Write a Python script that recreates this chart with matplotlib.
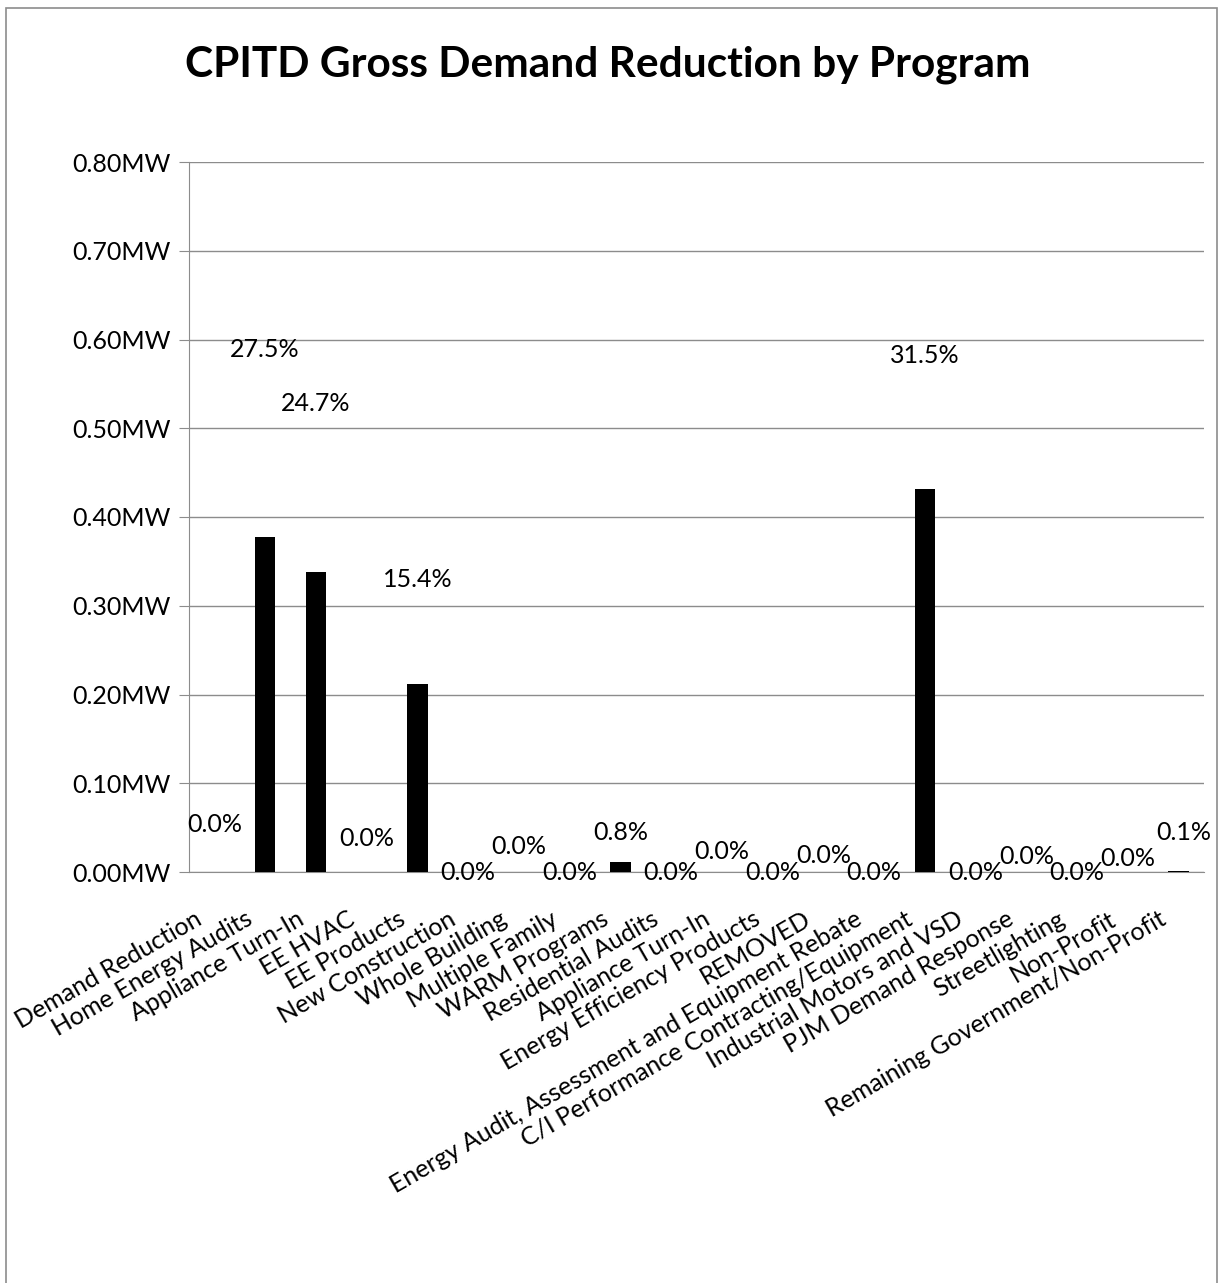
import matplotlib
matplotlib.use("Agg")
import matplotlib.pyplot as plt
import matplotlib.transforms as mtransforms
from matplotlib.patches import Rectangle

plt.rcParams['font.family'] = ['Lato', 'DejaVu Sans']

programs = ["Demand Reduction", "Home Energy Audits", "Appliance Turn-In", "EE HVAC",
            "EE Products", "New Construction", "Whole Building", "Multiple Family",
            "WARM Programs", "Residential Audits", "Appliance Turn-In",
            "Energy Efficiency Products", "REMOVED",
            "Energy Audit, Assessment and Equipment Rebate",
            "C/I Performance Contracting/Equipment", "Industrial Motors and VSD",
            "PJM Demand Response", "Streetlighting", "Non-Profit",
            "Remaining Government/Non-Profit"]
demand_mw = [0.0, 0.377, 0.338, 0.0, 0.212, 0.0, 0.0, 0.0, 0.011, 0.0,
             0.0, 0.0, 0.0, 0.0, 0.432, 0.0, 0.0, 0.0, 0.0, 0.001]
share_pct = [0.0, 27.5, 24.7, 0.0, 15.4, 0.0, 0.0, 0.0, 0.8, 0.0,
             0.0, 0.0, 0.0, 0.0, 31.5, 0.0, 0.0, 0.0, 0.0, 0.1]

# where each percentage label sits (data units), mimicking the spreadsheet layout
label_y = [0.053, 0.589, 0.528, 0.038, 0.330, 0.0, 0.029, 0.0, 0.044, 0.0,
           0.023, 0.0, 0.019, 0.0, 0.582, 0.0, 0.017, 0.0, 0.015, 0.044]
label_dx = [0]*19 + [0.1]

fig = plt.figure(figsize=(12.21, 12.83), dpi=100)
fig.patch.set_facecolor("white")
fig.add_artist(Rectangle((0.005, -0.01), 0.992, 1.004, transform=fig.transFigure,
                         fill=False, edgecolor="#8c8c8c", linewidth=1.2))

ax = fig.add_axes([189/1221, 1 - 872/1283, 1015/1221, 710/1283])
x = list(range(len(programs)))
ax.bar(x, demand_mw, width=0.4, color="black", zorder=3)

for i, p in enumerate(share_pct):
    ax.text(i + label_dx[i], label_y[i], "%.1f%%" % p, ha="center", va="center",
            fontsize=18, zorder=4)

ax.set_xlim(-0.5, len(programs) - 0.5)
ax.set_ylim(0, 0.8)
ax.set_yticks([i/10 for i in range(9)])
ax.set_yticklabels(["%.2fMW" % (i/10) for i in range(9)], fontsize=18)
ax.yaxis.grid(True, color="#8c8c8c", linewidth=1.0, zorder=0)
ax.tick_params(axis="y", length=7, color="#8c8c8c", pad=6)
ax.set_xticks(x)
ax.set_xticklabels(programs, rotation=30, ha="right", rotation_mode="anchor", fontsize=18)
ax.tick_params(axis="x", length=0, pad=8)
# nudge the slanted names left and down
shift = mtransforms.ScaledTranslation(-20/100, -24/100, fig.dpi_scale_trans)
for lbl in ax.get_xticklabels():
    lbl.set_transform(lbl.get_transform() + shift)
for s in ["top", "right"]:
    ax.spines[s].set_visible(False)
ax.spines["left"].set_color("#8c8c8c")
ax.spines["bottom"].set_color("#8c8c8c")

fig.text(0.498, 1 - 65/1283, "CPITD Gross Demand Reduction by Program",
         ha="center", va="center", fontsize=30.5, fontweight="bold")

fig.savefig("out.png", dpi=100)
